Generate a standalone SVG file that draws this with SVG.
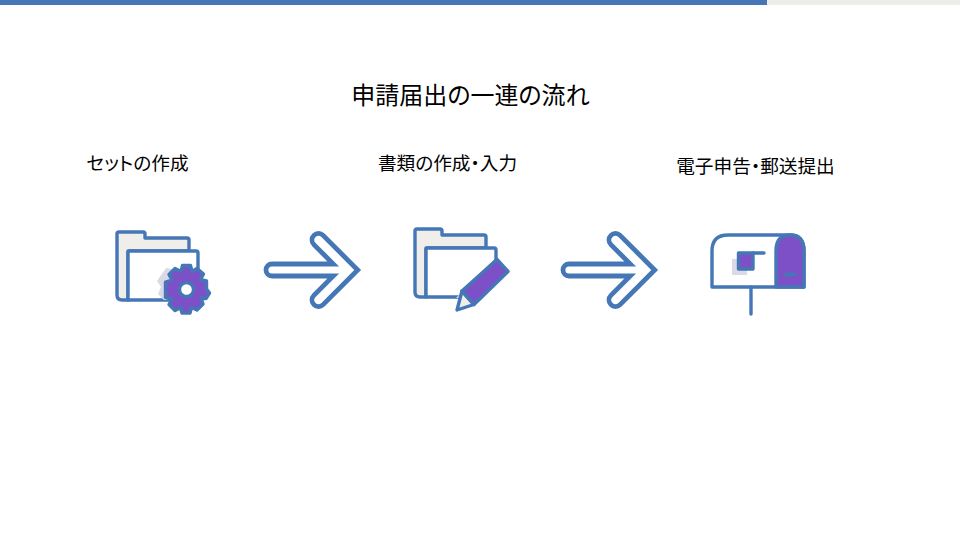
<svg xmlns="http://www.w3.org/2000/svg" width="960" height="540" viewBox="0 0 960 540">
<style>
text{font-family:"Noto Sans CJK JP","Noto Sans",sans-serif;fill:#000;font-feature-settings:"palt"}
.t{font-size:24px}
.l{font-size:18.67px}
.s{stroke:#4577B6;stroke-width:3.4;stroke-linejoin:round;stroke-linecap:round}
.a{fill:#fff;stroke:#4577B6;stroke-width:4.8;stroke-linejoin:miter}
.b{fill:#EFEEEA}
.w{fill:#fff}
.p{fill:#7D50C8}
.n{fill:none}
.h{fill:#D9D9E8}
</style>
<defs>
<path id="arrow" class="a" d="M272 264H333.3L313.9 244.6A6.5 6.5 0 0 1 323.1 235.4L357.7 270L323.1 304.6A6.5 6.5 0 0 1 313.9 295.4L333.3 276H272A6 6 0 0 1 272 264Z"/>
</defs>
<rect width="960" height="540" fill="#fff"/>
<g id="topbar">
<rect width="960" height="5" fill="#EDEDE8"/>
<rect width="767" height="5" fill="#4577B6"/>
</g>
<g id="title"><text class="t" x="470.500" y="104" text-anchor="middle">申請届出の一連の流れ</text></g>
<g id="node-set">
<text class="l" x="137.500" y="170" text-anchor="middle">セットの作成</text>
<path class="s b" d="M128 300H122Q117 300 117 295V234Q117 232 119 232H143Q145 232 145 234V238H187Q189 238 189 240V251H128Z"/>
<path class="s w" d="M128 300V253Q128 251 130 251H196Q198 251 198 253V300Z"/>
<path class="h" d="M166 268L157 281L161 287L158 294L164 300H178V270Z"/>
<path class="s p" d="M182.500 265.500H190.500L192 271.500L197 268.500L203.500 274L200.500 279.500L206.500 281V289L209.500 293L206 298.500L201 298L203 304L197 310L191.500 307.500L190 313H182L180.500 307.500L175 310.500L169 304.500L172 299L165.500 297.500V290L165.500 282L172 280L169 274.500L175 268.500L181 271.500Z"/>
<circle cx="186.500" cy="289.500" r="7" fill="#fff" stroke="#4577B6" stroke-width="3.400"/>
</g>
<g id="node-write">
<text class="l" x="447.500" y="170" text-anchor="middle">書類の作成・入力</text>
<path class="s b" d="M426 297H420Q415 297 415 292V231Q415 229 417 229H440Q442 229 442 231V235H484Q486 235 486 237V248H426Z"/>
<path class="s w" d="M426 297V250Q426 248 428 248H494Q496 248 496 250V260L464 297Z"/>
<path class="h" d="M490 263L456 298H462L494 267Z"/>
<path class="s b" d="M462 291L457 310L474 304.500Z"/>
<path class="s p" d="M462 291L497 259.500L508 271.500L474 304.500Z"/>
</g>
<g id="node-send">
<text class="l" x="755.500" y="173" text-anchor="middle">電子申告・郵送提出</text>
<path class="s w" d="M712 287V251Q712 235 728 235H790Q804 235 804 251V287Z"/>
<path class="s p" d="M776 287V251Q776 235 790 235Q804 235 804 251V287Z"/>
<path class="s n" d="M785 274.500H795"/>
<rect class="h" x="732" y="259" width="15" height="16"/>
<path class="s n" d="M751 287V314"/>
<path class="s p" d="M738.500 253H753V269H738.500Z"/>
<path class="s n" d="M753 253H764"/>
</g>
<g id="connectors">
<use href="#arrow"/>
<use href="#arrow" x="297"/>
</g>
</svg>
